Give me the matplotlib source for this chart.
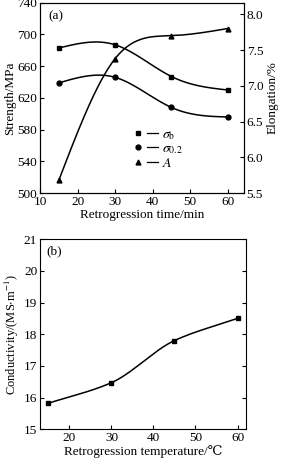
import numpy as np
import matplotlib
matplotlib.use('Agg')
import matplotlib.pyplot as plt
from matplotlib.legend_handler import HandlerTuple

plt.rcParams['font.family'] = ['Liberation Serif', 'DejaVu Serif']
plt.rcParams['mathtext.fontset'] = 'stix'
plt.rcParams['font.size'] = 9

# (a) 回归时间
time_min = [15, 30, 45, 60]
sigma_b = [683, 687, 647, 630]
sigma_02 = [639, 646, 608, 596]
elong = [5.68, 7.38, 7.70, 7.80]

# (b) 回归温度
temp_c = [15, 30, 45, 60]
conduct = [15.82, 16.47, 17.80, 18.50]


def spline(x, y, n=200):
    # 自然三次样条, 仅用于画平滑曲线
    x = np.asarray(x, float)
    y = np.asarray(y, float)
    k = len(x)
    h = np.diff(x)
    A = np.zeros((k, k))
    r = np.zeros(k)
    A[0, 0] = A[-1, -1] = 1
    for i in range(1, k - 1):
        A[i, i - 1] = h[i - 1]
        A[i, i] = 2 * (h[i - 1] + h[i])
        A[i, i + 1] = h[i]
        r[i] = 6 * ((y[i + 1] - y[i]) / h[i] - (y[i] - y[i - 1]) / h[i - 1])
    m = np.linalg.solve(A, r)
    xs = np.linspace(x[0], x[-1], n)
    j = np.clip(np.searchsorted(x, xs) - 1, 0, k - 2)
    t0 = xs - x[j]
    t1 = x[j + 1] - xs
    hj = h[j]
    ys = (m[j] * t1 ** 3 + m[j + 1] * t0 ** 3) / (6 * hj) \
        + (y[j] / hj - m[j] * hj / 6) * t1 + (y[j + 1] / hj - m[j + 1] * hj / 6) * t0
    return xs, ys


def pchip(x, y, n=200):
    # 单调三次插值, 曲线更接近折线
    x = np.asarray(x, float)
    y = np.asarray(y, float)
    h = np.diff(x)
    d = np.diff(y) / h
    m = np.zeros(len(x))
    m[0], m[-1] = d[0], d[-1]
    for i in range(1, len(x) - 1):
        if d[i - 1] * d[i] > 0:
            m[i] = 2 / (1 / d[i - 1] + 1 / d[i])
    xs = np.linspace(x[0], x[-1], n)
    j = np.clip(np.searchsorted(x, xs) - 1, 0, len(x) - 2)
    t = (xs - x[j]) / h[j]
    ys = (2 * t ** 3 - 3 * t ** 2 + 1) * y[j] + (t ** 3 - 2 * t ** 2 + t) * h[j] * m[j] \
        + (-2 * t ** 3 + 3 * t ** 2) * y[j + 1] + (t ** 3 - t ** 2) * h[j] * m[j + 1]
    return xs, ys


fig = plt.figure(figsize=(2.82, 4.61), dpi=100)

ax1 = fig.add_axes([0.142, 0.581, 0.723, 0.413])
ax1.plot(*spline(time_min, sigma_b), color='black', lw=1.1)
ax1.plot(*spline(time_min, sigma_02), color='black', lw=1.1)
ax1.plot(time_min, sigma_b, 's', color='black', ms=3.5)
ax1.plot(time_min, sigma_02, 'o', color='black', ms=3.5)
ax1.set_xlim(10, 64.3)
ax1.set_ylim(500, 740)
ax1.set_xticks([10, 20, 30, 40, 50, 60])
ax1.set_yticks([500, 540, 580, 620, 660, 700, 740])
ax1.set_xlabel('Retrogression time/min', labelpad=1, fontsize=9.5)
ax1.set_ylabel('Strength/MPa', labelpad=1, fontsize=9.5)
ax1.tick_params(direction='in', length=3, pad=2, labelsize=9.5)
ax1.text(0.04, 0.96, '(a)', transform=ax1.transAxes, va='top', ha='left', fontsize=9.5)

ax2 = ax1.twinx()
ax2.plot(*spline(time_min, elong), color='black', lw=1.1)
ax2.plot(time_min, elong, '^', color='black', ms=3.5)
ax2.set_ylim(5.5, 8.16)
ax2.set_yticks([5.5, 6.0, 6.5, 7.0, 7.5, 8.0])
ax2.set_yticklabels(['5.5', '6.0', '6.5', '7.0', '7.5', '8.0'])
ax2.set_ylabel('Elongation/%', labelpad=2, fontsize=9.5)
ax2.tick_params(direction='in', length=3, pad=2, labelsize=9.5)

# 图例: 符号在左, 线段在右
mk = [ax1.plot([], [], m, color='black', ms=3.5)[0] for m in ['s', 'o', '^']]
ln = ax1.plot([], [], '-', color='black', lw=0.9)[0]
ax1.legend([(mk[0], ln), (mk[1], ln), (mk[2], ln)],
           [r'$\sigma_{\rm b}$', r'$\sigma_{0.2}$', r'$A$'],
           handler_map={tuple: HandlerTuple(ndivide=None, pad=0.2)},
           loc='upper left', bbox_to_anchor=(0.42, 0.38), frameon=False,
           handlelength=1.8, handletextpad=0.3, labelspacing=0.05,
           borderpad=0, fontsize=10)

ax3 = fig.add_axes([0.142, 0.069, 0.730, 0.412])
ax3.plot(*pchip(temp_c, conduct), color='black', lw=1.1)
ax3.plot(temp_c, conduct, 's', color='black', ms=3.5)
ax3.set_xlim(13, 62)
ax3.set_ylim(15, 21)
ax3.set_xticks([20, 30, 40, 50, 60])
ax3.set_yticks([15, 16, 17, 18, 19, 20, 21])
ax3.set_xlabel('Retrogression temperature/℃', labelpad=1, fontsize=9.5)
ax3.set_ylabel(r'Conductivity/(MS$\cdot$m$^{-1}$)', labelpad=2, fontsize=9)
ax3.tick_params(direction='in', length=3, pad=2, right=True, labelsize=9.5)
ax3.text(0.03, 0.97, '(b)', transform=ax3.transAxes, va='top', ha='left', fontsize=9.5)

fig.savefig('out.png', dpi=100)
